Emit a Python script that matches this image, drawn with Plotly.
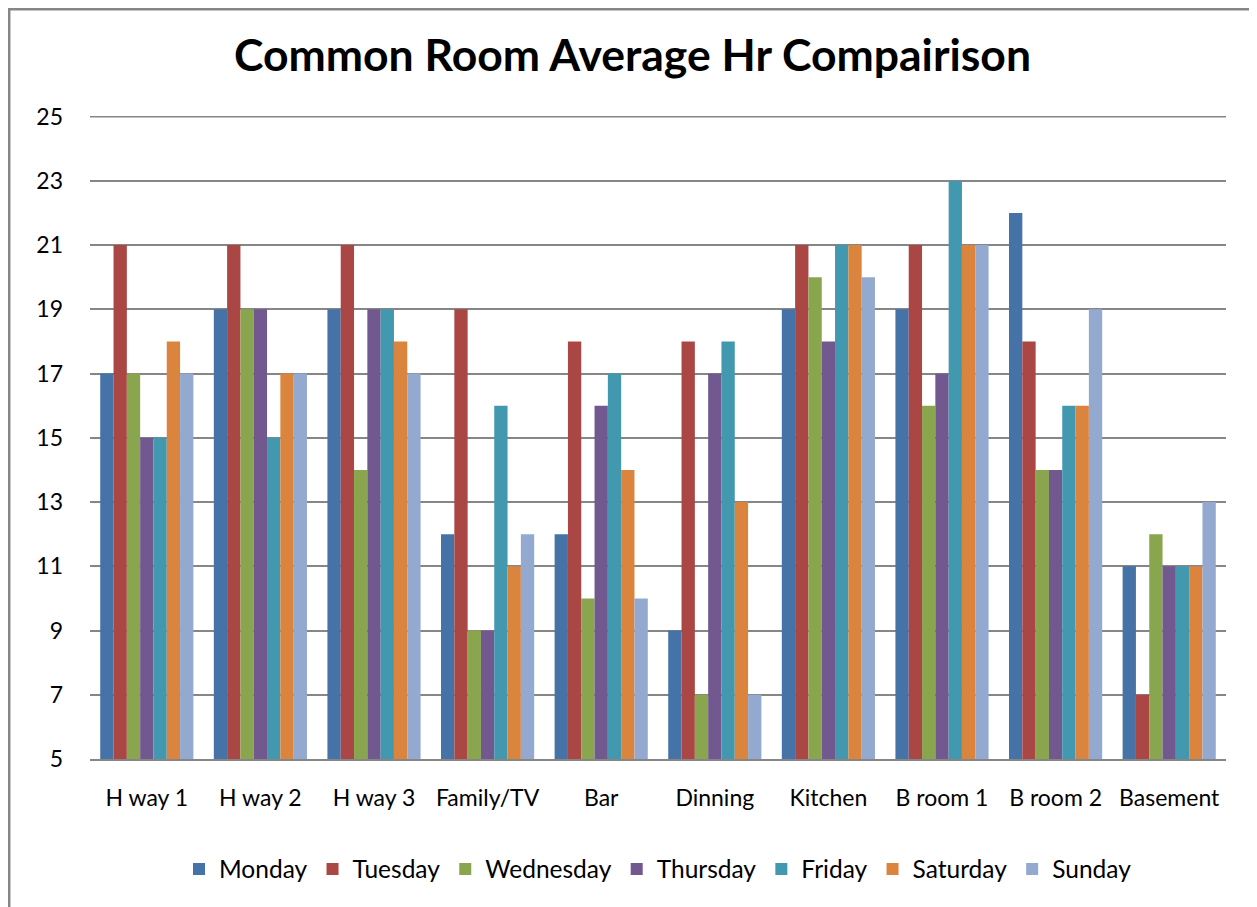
import plotly.graph_objects as go

rooms = ["H way 1", "H way 2", "H way 3", "Family/TV", "Bar", "Dinning",
         "Kitchen", "B room 1", "B room 2", "Basement"]
days = ["Monday", "Tuesday", "Wednesday", "Thursday", "Friday", "Saturday", "Sunday"]

monday    = [17, 19, 19, 12, 12, 9, 19, 19, 22, 11]
tuesday   = [21, 21, 21, 19, 18, 18, 21, 21, 18, 7]
wednesday = [17, 19, 14, 9, 10, 7, 20, 16, 14, 12]
thursday  = [15, 19, 19, 9, 16, 17, 18, 17, 14, 11]
friday    = [15, 15, 19, 16, 17, 18, 21, 23, 16, 11]
saturday  = [18, 17, 18, 11, 14, 13, 21, 21, 16, 11]
sunday    = [17, 17, 17, 12, 10, 7, 20, 21, 19, 13]

series = [monday, tuesday, wednesday, thursday, friday, saturday, sunday]
colors = ["#4572A7", "#AA4643", "#89A54E", "#71588F", "#4198AF", "#DB843D", "#93A9CF"]

FONT = "Lato"
BASE = 5
YMAX = 25

fig = go.Figure()
for name, vals, col in zip(days, series, colors):
    fig.add_trace(go.Bar(
        x=rooms, y=[v - BASE for v in vals], base=BASE, name=name,
        marker=dict(color=col, line=dict(width=0)),
    ))

# page body has an 8px margin; figure coordinates are offset by it
OFF = 8
W, H = 1257 - OFF, 907 - OFF
L = 90 - OFF
T = 116 - OFF
R = W - (1226 - OFF)
B = H - (759 - OFF)
pw, ph = W - L - R, H - T - B

fig.update_layout(
    width=W, height=H,
    margin=dict(l=L, r=R, t=T, b=B, autoexpand=False),
    paper_bgcolor="white", plot_bgcolor="white",
    barmode="group", bargap=0.18, bargroupgap=0,
    font=dict(family=FONT, size=23, color="black"),
    title=dict(text="<b>Common Room Average Hr Compairison</b>",
               x=0.5, xanchor="center", y=1 - (55 - OFF) / H, yanchor="middle",
               font=dict(family=FONT, size=44.5, color="black")),
    legend=dict(orientation="h", x=0.5, xanchor="center",
                y=-(869 - 759) / ph, yanchor="middle",
                font=dict(family=FONT, size=24.5), traceorder="normal"),
    showlegend=True,
)
fig.update_xaxes(showgrid=False, showline=True, linecolor="#868686", linewidth=1.5,
                 ticks="", tickfont=dict(family=FONT, size=23), ticklabelstandoff=18)
fig.update_yaxes(range=[BASE, YMAX + 0.02], tick0=BASE, dtick=2, showgrid=True,
                 gridcolor="#868686", gridwidth=1.5, zeroline=False,
                 showline=False, ticks="", tickfont=dict(family=FONT, size=23),
                 ticklabelstandoff=26)

# top gridline at the axis maximum (plotly skips it at the edge)
fig.add_shape(type="line", xref="paper", yref="y", x0=0, x1=1, y0=YMAX, y1=YMAX,
              line=dict(color="#868686", width=1.5), layer="below")

# outer chart border
fig.add_shape(type="rect", xref="paper", yref="paper",
              x0=(1.2 - L) / pw, x1=(1252 - OFF - L) / pw,
              y0=-(H + 20 - T - ph) / ph, y1=1 + (T - 1.2) / ph,
              line=dict(color="#868686", width=2.5), layer="below")

fig.write_html("out.html")
